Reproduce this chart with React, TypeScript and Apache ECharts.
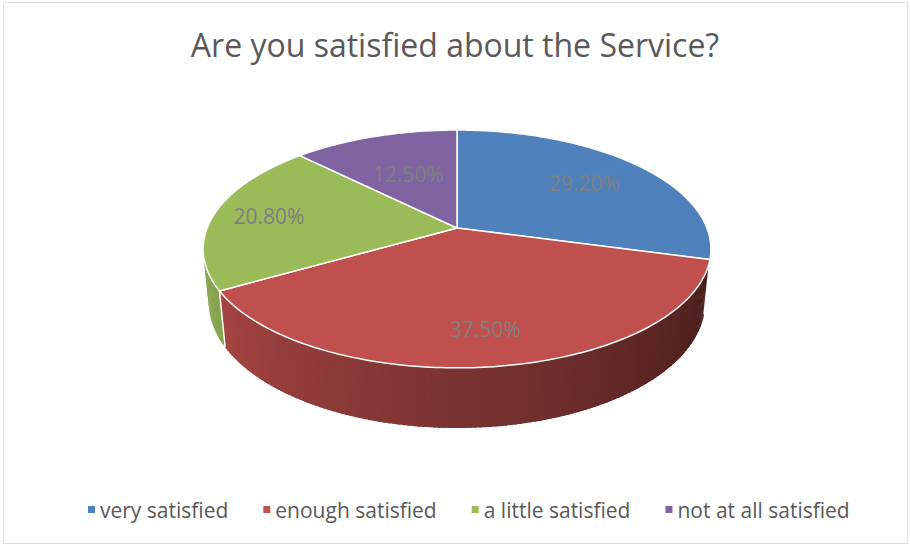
import React, { useEffect, useRef } from "react";
import * as echarts from "echarts";

const categories = ["very satisfied", "enough satisfied", "a little satisfied", "not at all satisfied"];
const values = [29.2, 37.5, 20.8, 12.5];
const colors = ["#4F81BD", "#C0504D", "#9BBB59", "#8064A2"];
const titleText = "Are you satisfied about the Service?";

// projection parameters (layout only)
const CX = 457, CY = 228, F = 1257, D = 5.03, S = 0.461, C = 0.887, H = 0.2436;
const LABEL_FONT = 21;
const LABEL_GAP = 18;

function proj(deg: number, rho: number, h: number): [number, number] {
  const t = (deg * Math.PI) / 180;
  const u = rho * Math.sin(t);
  const v = rho * Math.cos(t);
  const depth = D + v * C + h * S;
  return [CX + (F * u) / depth, CY + (F * (-v * S + h * C)) / depth];
}

function shade(hex: string, f: number): string {
  const n = parseInt(hex.slice(1), 16);
  const r = Math.round(((n >> 16) & 255) * f);
  const g = Math.round(((n >> 8) & 255) * f);
  const b = Math.round((n & 255) * f);
  return `rgb(${r},${g},${b})`;
}

function wallFactor(deg: number): number {
  const f = 0.36 + (0.5 * (deg - 105)) / 135;
  return Math.max(0.34, Math.min(0.88, f));
}

let measureCtx: CanvasRenderingContext2D | null = null;
function textWidth(t: string, font: string): number {
  if (!measureCtx) measureCtx = document.createElement("canvas").getContext("2d");
  if (!measureCtx) return t.length * 10;
  measureCtx.font = font;
  return measureCtx.measureText(t).width;
}

export default function App() {
  const ref = useRef<HTMLDivElement>(null);
  useEffect(() => {
    document.body.style.margin = "0";
    const chart = echarts.init(ref.current!, null, { renderer: "svg" });
    const total = values.reduce((a, b) => a + b, 0);
    const starts: number[] = [];
    let acc = 0;
    values.forEach((v) => {
      starts.push((acc / total) * 360);
      acc += v;
    });

    const series = categories.map((name, i) => ({
      type: "custom",
      name,
      coordinateSystem: "none",
      itemStyle: { color: colors[i] },
      data: [[values[i]]],
      renderItem: (params: any, api: any) => {
        const val = api.value(0);
        const a0 = starts[i];
        const a1 = a0 + (val / total) * 360;
        const children: any[] = [];
        // outer wall, drawn in thin overlapping strips for shading
        const step = 1;
        for (let a = a0; a < a1; a += step) {
          const b = Math.min(a + step + 0.6, a1);
          const col = shade(colors[i], wallFactor(a + step / 2));
          children.push({
            type: "polygon",
            z2: 1,
            shape: { points: [proj(a, 1, 0), proj(b, 1, 0), proj(b, 1, H), proj(a, 1, H)] },
            style: { fill: col },
          });
        }
        children.push({
          type: "line",
          z2: 2,
          shape: (() => {
            const p = proj(a0, 1, 0);
            const q = proj(a0, 1, H);
            return { x1: p[0], y1: p[1], x2: q[0], y2: q[1] };
          })(),
          style: { stroke: "#ffffff", lineWidth: 1.5 },
        });
        // top face
        const pts: [number, number][] = [proj(0, 0, 0)];
        const n = Math.max(2, Math.ceil(a1 - a0));
        for (let k = 0; k <= n; k++) pts.push(proj(a0 + ((a1 - a0) * k) / n, 1, 0));
        children.push({
          type: "polygon",
          z2: 10,
          shape: { points: pts },
          style: { fill: colors[i], stroke: "#ffffff", lineWidth: 1.5, lineJoin: "round" },
        });
        // data label: inside the slice, a fixed gap from the arc's midpoint toward the centre
        const text = val.toFixed(2) + "%";
        const font = `${LABEL_FONT}px "Open Sans"`;
        const hw = textWidth(text, font) / 2;
        const hh = LABEL_FONT * 0.55;
        const m = proj((a0 + a1) / 2, 1, 0);
        const c = proj(0, 0, 0);
        let dx = c[0] - m[0], dy = c[1] - m[1];
        const len = Math.hypot(dx, dy) || 1;
        dx /= len; dy /= len;
        const d = Math.abs(dx) * hw + Math.abs(dy) * hh + LABEL_GAP;
        children.push({
          type: "text",
          z2: 20,
          x: m[0] + dx * d,
          y: m[1] + dy * d,
          style: {
            text,
            fill: "#7f7f7f",
            font,
            align: "center",
            verticalAlign: "middle",
          },
        });
        return { type: "group", children };
      },
    }));

    chart.setOption({
      animation: false,
      title: {
        text: titleText,
        left: "center",
        top: 23,
        textStyle: { color: "#595959", fontSize: 32, fontWeight: "normal", fontFamily: "Open Sans" },
      },
      legend: {
        data: categories,
        bottom: 21,
        left: 83,
        icon: "rect",
        itemWidth: 7,
        itemHeight: 7,
        itemGap: 35,
        textStyle: { color: "#595959", fontSize: 21, fontFamily: "Open Sans" },
      },
      graphic: [
        {
          type: "rect",
          shape: { x: 3.5, y: 2.5, width: 904, height: 541 },
          style: { fill: "none", stroke: "#e0e0e0", lineWidth: 1 },
          silent: true,
        },
      ],
      series,
    } as any);
    return () => chart.dispose();
  }, []);
  return <div ref={ref} style={{ width: 910, height: 546 }} />;
}
